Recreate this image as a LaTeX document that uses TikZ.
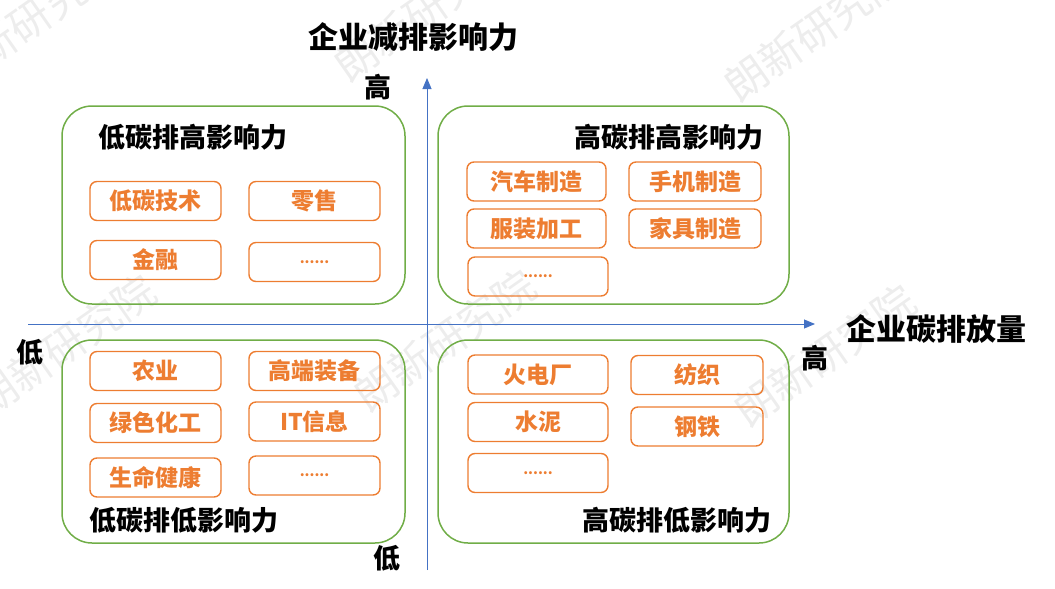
\documentclass[tikz,border=0pt]{standalone}
\usepackage{fontspec}
\setmainfont{Noto Sans CJK SC}
\usepackage{tikz}
\usetikzlibrary{positioning, shapes, arrows.meta, calc}

\definecolor{axisblue}{HTML}{4472C4}
\definecolor{boxgreen}{HTML}{70AD47}
\definecolor{itemorange}{HTML}{ED7D31}

\begin{document}
\begin{tikzpicture}[x=1pt, y=-1pt,
			quadrant/.style={rectangle, draw=boxgreen, line width=1.5pt, rounded corners=30pt},
			sector/.style={rectangle, draw=itemorange, line width=1.4pt, rounded corners=7pt, text=itemorange, font=\bfseries\fontsize{23}{23}\selectfont, minimum height=39pt, inner sep=0pt},
			more/.style={sector, font=\bfseries\fontsize{14}{14}\selectfont},
			qtitle/.style={font=\bfseries\fontsize{27}{27}\selectfont, inner sep=0pt},
			axislabel/.style={font=\bfseries\fontsize{30}{30}\selectfont, inner sep=0pt},
			tick/.style={font=\bfseries\fontsize{27}{27}\selectfont, inner sep=0pt},
			axis/.style={-{Triangle[length=11pt, width=9pt]}, draw=axisblue, line width=0.9pt},
			watermark/.style={text=black!7, rotate=35, font=\fontsize{42}{42}\selectfont, inner sep=0pt}
			]
			\useasboundingbox (0,0) rectangle (1055,589);
			
			\node[watermark] (wm1) at (30,20) {朗新研究院};
			\node[watermark] (wm2) at (425,10) {朗新研究院};
			\node[watermark] (wm3) at (815,30) {朗新研究院};
			\node[watermark] (wm4) at (65,345) {朗新研究院};
			\node[watermark] (wm5) at (445,340) {朗新研究院};
			\node[watermark] (wm6) at (825,355) {朗新研究院};
			
			\node[quadrant, minimum width=343pt, minimum height=198pt] (hl) at (233.5,205) {};
			\node[quadrant, minimum width=351pt, minimum height=198pt] (hh) at (613.5,205) {};
			\node[quadrant, minimum width=343pt, minimum height=203pt] (ll) at (233.5,441.5) {};
			\node[quadrant, minimum width=351pt, minimum height=203pt] (lh) at (613.5,441.5) {};
			
			\coordinate (ybot) at (427,570);
			\coordinate (ytop) at (427,78);
			\coordinate (xleft) at (28,324);
			\coordinate (xright) at (815,324);
			\draw[axis] (ybot) -- (ytop);
			\draw[axis] (xleft) -- (xright);
			
			\node[axislabel] (ytitle) at (413,37) {企业减排影响力};
			\node[axislabel] (xtitle) at (936,329) {企业碳排放量};
			\node[tick] (yhigh) at (378,87) {高};
			\node[tick] (ylow) at (387,558) {低};
			\node[tick] (xlow) at (30,352) {低};
			\node[tick] (xhigh) at (815,358) {高};
			
			\node[qtitle] (hltitle) at (193,137) {低碳排高影响力};
			\node[sector, minimum width=131pt] (lowtech) at (155.5,201) {低碳技术};
			\node[sector, minimum width=131pt] (retail) at (314.5,201) {零售};
			\node[sector, minimum width=131pt] (finance) at (155.5,260) {金融};
			\node[more, minimum width=131pt] (hlmore) at (314.5,262) {......};
			
			\node[qtitle] (hhtitle) at (669,137) {高碳排高影响力};
			\node[sector, minimum width=139pt] (auto) at (536.5,181.5) {汽车制造};
			\node[sector, minimum width=132pt] (phone) at (695,181.5) {手机制造};
			\node[sector, minimum width=139pt] (apparel) at (536.5,228.5) {服装加工};
			\node[sector, minimum width=132pt] (furniture) at (695,228.5) {家具制造};
			\node[more, minimum width=140pt] (hhmore) at (538,276.5) {......};
			
			\node[qtitle] (lltitle) at (184,520) {低碳排低影响力};
			\node[sector, minimum width=131pt] (agri) at (155.5,371) {农业};
			\node[sector, minimum width=131pt] (equip) at (314.5,371) {高端装备};
			\node[sector, minimum width=131pt] (chem) at (155.5,423) {绿色化工};
			\node[sector, minimum width=131pt] (itinfo) at (314.5,421.5) {IT信息};
			\node[sector, minimum width=131pt] (health) at (155.5,477.5) {生命健康};
			\node[more, minimum width=131pt] (llmore) at (314.5,475.5) {......};
			
			\node[qtitle] (lhtitle) at (676.5,520) {高碳排低影响力};
			\node[sector, minimum width=140pt] (power) at (538,374.5) {火电厂};
			\node[sector, minimum width=132pt] (textile) at (697,375) {纺织};
			\node[sector, minimum width=140pt] (cement) at (538,422) {水泥};
			\node[sector, minimum width=132pt] (steel) at (697,426.5) {钢铁};
			\node[more, minimum width=140pt] (lhmore) at (538,473) {......};
		\end{tikzpicture}
\end{document}
